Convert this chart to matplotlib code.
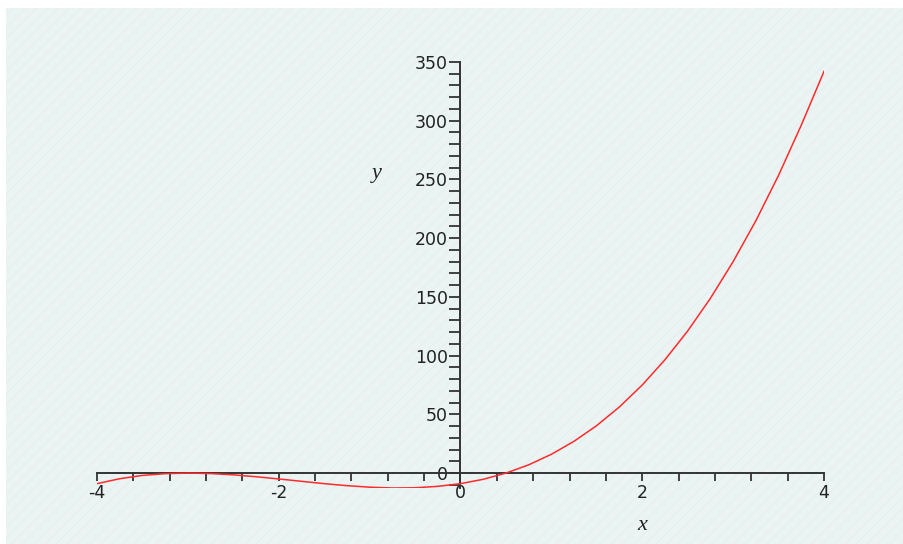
import matplotlib
matplotlib.use("Agg")
import matplotlib.pyplot as plt
from matplotlib.patches import Rectangle
from matplotlib.ticker import MultipleLocator

# curve values
x_vals = [-4.0, -3.75, -3.5, -3.25, -3.0, -2.75, -2.5, -2.25, -2.0, -1.75,
          -1.5, -1.25, -1.0, -0.75, -0.5, -0.25, 0.0, 0.25, 0.5, 0.75,
          1.0, 1.25, 1.5, 1.75, 2.0, 2.25, 2.5, 2.75, 3.0, 3.25,
          3.5, 3.75, 4.0]
y_vals = [-9.0, -4.8, -2.0, -0.5, 0.0, -0.4, -1.5, -3.1, -5.0, -7.0,
          -9.0, -10.7, -12.0, -12.7, -12.5, -11.3, -9.0, -5.3, 0.0, 7.0,
          16.0, 27.1, 40.5, 56.4, 75.0, 96.5, 121.0, 148.8, 180.0, 214.8,
          253.5, 296.2, 342.0]

x_ticks = [-4, -2, 0, 2, 4]
y_ticks = [0, 50, 100, 150, 200, 250, 300, 350]

plt.rcParams["hatch.linewidth"] = 0.5
plt.rcParams["axes.unicode_minus"] = False

fig = plt.figure(figsize=(9.04, 5.44), dpi=100)
fig.patch.set_facecolor("white")

# textured light panel behind the plot
bg = Rectangle((6 / 904, 0), 1, 1 - 8 / 544, transform=fig.transFigure,
               facecolor="#ebf3f3", edgecolor="#ddf0f0", hatch="///",
               linewidth=0, zorder=-5)
fig.patches.append(bg)

ax = fig.add_axes([97 / 904, 1 - 488 / 544, 727 / 904, 426 / 544])
ax.set_facecolor("none")
ax.plot(x_vals, y_vals, color="#ff2a2a", linewidth=1.1, zorder=3)

ax.set_xlim(-4, 4)
ax.set_ylim(-12.7, 350)

for side in ["top", "right"]:
    ax.spines[side].set_visible(False)
ax.spines["left"].set_position(("data", 0))
ax.spines["bottom"].set_position(("data", 0))
for side in ["left", "bottom"]:
    ax.spines[side].set_color("#333333")
    ax.spines[side].set_linewidth(1.4)
    ax.spines[side].set_zorder(2)

ax.set_xticks(x_ticks)
ax.set_yticks(y_ticks)
ax.xaxis.set_minor_locator(MultipleLocator(0.4))
ax.yaxis.set_minor_locator(MultipleLocator(10))
ax.tick_params(axis="x", which="both", direction="out", length=6, width=1.3,
               color="#333333", labelsize=12.5, labelcolor="#222222", pad=2)
ax.tick_params(axis="y", which="both", direction="out", length=8, width=1.3,
               color="#333333", labelsize=12.5, labelcolor="#222222", pad=1)

ax.text(-0.92, 255, "y", fontsize=16, style="italic", family="Liberation Serif",
        color="#222222", ha="center", va="center")
ax.text(2.0, -45, "x", fontsize=16, style="italic", family="Liberation Serif",
        color="#222222", ha="center", va="center", clip_on=False)

fig.savefig("out.png", dpi=100)
